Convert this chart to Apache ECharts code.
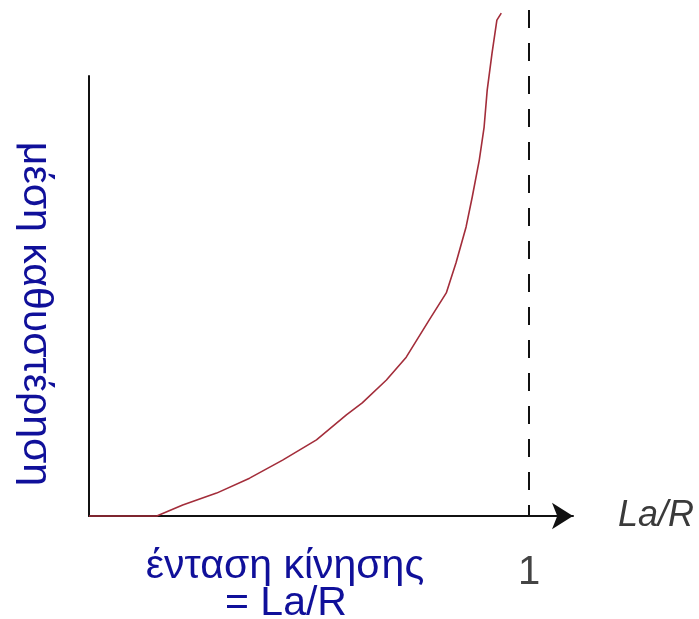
<!DOCTYPE html>
<html>
<head>
<meta charset="utf-8">
<script src="https://cdn.jsdelivr.net/npm/echarts@6/dist/echarts.min.js"></script>
<style>
  html, body { margin: 0; padding: 0; background: #ffffff; }
  #chart { width: 699px; height: 619px; }
</style>
</head>
<body>
<div id="chart"></div>
<script>
// Mean delay as a function of traffic intensity La/R (rises steeply as La/R -> 1)
const intensity = [0, 0.154, 0.213, 0.290, 0.365, 0.440, 0.517, 0.585, 0.621, 0.676, 0.721,
                   0.773, 0.812, 0.834, 0.857, 0.871, 0.887, 0.898, 0.905, 0.916, 0.927, 0.937];
const meanDelay = [0, 0, 0.025, 0.052, 0.086, 0.127, 0.173, 0.230, 0.257, 0.309, 0.361,
                   0.445, 0.507, 0.575, 0.657, 0.725, 0.809, 0.884, 0.968, 1.052, 1.127, 1.143];

// Vertical asymptote at La/R = 1
const asymptoteX = [1, 1];
const asymptoteY = [1.15, 0];

// Tick labels on the horizontal axis
const xTickValues = [1];
const xTickLabels = ['1'];

const yTitle = 'μέση καθυστέρηση';
const xTitleLines = ['ένταση κίνησης', '= La/R'];
const xAxisName = 'La/R';

const navy = '#10109a';
const font = 'Liberation Sans, Arial, sans-serif';

const chart = echarts.init(document.getElementById('chart'), null, { renderer: 'canvas' });

chart.setOption({
  backgroundColor: '#ffffff',
  animation: false,
  grid: { left: 89, top: 76, right: 126, bottom: 103, containLabel: false, outerBoundsMode: 'none' },
  xAxis: {
    type: 'value',
    min: 0,
    max: 1.1,
    interval: 1,
    name: xAxisName,
    nameLocation: 'end',
    nameGap: 45,
    nameTextStyle: {
      fontFamily: font, fontStyle: 'italic', fontSize: 36, color: '#3a3a3a',
      verticalAlign: 'middle', align: 'left'
    },
    axisLine: {
      show: true,
      lineStyle: { color: '#111', width: 2 },
      symbol: ['none', 'arrow'],
      symbolSize: [20, 21]
    },
    axisTick: { show: false },
    splitLine: { show: false },
    axisLabel: {
      show: true,
      margin: 37,
      fontFamily: font,
      fontSize: 40,
      color: '#444',
      formatter: function (v) {
        const i = xTickValues.indexOf(v);
        return i >= 0 ? xTickLabels[i] : '';
      }
    }
  },
  yAxis: {
    type: 'value',
    min: 0,
    max: 1,
    axisLine: { show: true, onZero: false, lineStyle: { color: '#111', width: 2 } },
    axisTick: { show: false },
    axisLabel: { show: false },
    splitLine: { show: false }
  },
  graphic: [
    {
      type: 'text',
      x: 35, y: 314,
      rotation: -Math.PI / 2,
      style: {
        text: yTitle, fontFamily: font, fontSize: 41, fill: navy,
        align: 'center', verticalAlign: 'middle'
      }
    },
    {
      type: 'text',
      x: 285, y: 567,
      style: {
        text: xTitleLines[0], fontFamily: font, fontSize: 41, fill: navy,
        align: 'center', verticalAlign: 'middle'
      }
    },
    {
      type: 'text',
      x: 286, y: 604,
      style: {
        text: xTitleLines[1], fontFamily: font, fontSize: 41, fill: navy,
        align: 'center', verticalAlign: 'middle'
      }
    }
  ],
  series: [
    {
      type: 'line',
      data: asymptoteX.map((x, i) => [x, asymptoteY[i]]),
      clip: false,
      symbol: 'none',
      silent: true,
      lineStyle: { color: '#111', width: 2, type: [18, 15] },
      z: 3
    },
    {
      type: 'line',
      data: intensity.map((x, i) => [x, meanDelay[i]]),
      clip: false,
      symbol: 'none',
      smooth: false,
      silent: true,
      lineStyle: { color: '#a32d3a', width: 1.6, join: 'round' },
      z: 4
    }
  ]
});
</script>
</body>
</html>
